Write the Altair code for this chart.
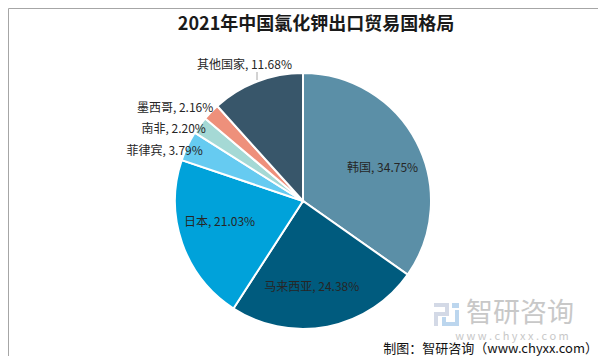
import altair as alt
import pandas as pd

categories = ["韩国", "马来西亚", "日本", "菲律宾", "南非", "墨西哥", "其他国家"]
values = [34.75, 24.38, 21.03, 3.79, 2.20, 2.16, 11.68]
colors = ["#5b8fa7", "#005b7e", "#00a2da", "#66cbf1", "#a5d9d5", "#ee907b", "#38566a"]

inside_cats = ["韩国", "马来西亚", "日本"]
top_cats = ["其他国家"]

title_text = "2021年中国氯化钾出口贸易国格局"
source_text = "制图：智研咨询（www.chyxx.com）"

df = pd.DataFrame({"cat": categories, "value": values, "idx": list(range(len(categories)))})

FONT = "Noto Sans CJK SC"
CX, CY, R = 295, 193, 128
O = 8  # page margin

base = alt.Chart(df).transform_calculate(
    label="datum.cat + ', ' + format(datum.value, '.2f') + '%'"
)

theta = alt.Theta("value:Q", stack=True)
order = alt.Order("idx:Q", sort="ascending")

pie = base.mark_arc(radius=R, stroke="white", strokeWidth=2).encode(
    theta=theta,
    order=order,
    color=alt.Color("cat:N", scale=alt.Scale(domain=categories, range=colors), legend=None),
    x=alt.value(CX), y=alt.value(CY),
)

def label_layer(cats, **mk):
    expr = "indexof(" + str(cats).replace("'", '"') + ", datum.cat) >= 0 ? datum.label : ''"
    return base.transform_calculate(lab=expr).mark_text(
        font=FONT, fontSize=12, color="#262626", baseline="middle", **mk
    ).encode(
        theta=theta, order=order, text="lab:N",
        x=alt.value(CX), y=alt.value(CY),
    )

inside = label_layer(inside_cats, radius=86, thetaOffset=0.09, align="center")
side1 = label_layer(["菲律宾"], radius=112, thetaOffset=0.02, align="right")
side2 = label_layer(["南非"], radius=121, thetaOffset=0.007, align="right")
side3 = label_layer(["墨西哥"], radius=129, thetaOffset=0.033, align="right")
top = label_layer(top_cats, radius=148, thetaOffset=-0.04, align="center")

one = alt.Chart(df).transform_filter("datum.idx == 0")

leader = one.mark_rule(color="#a6a6a6", strokeWidth=1).encode(
    x=alt.value(249), y=alt.value(64), y2=alt.value(72)
)

title = one.mark_text(
    text=title_text, font=FONT, fontSize=18, fontWeight="bold", color="#1a1a1a",
    align="center", baseline="middle"
).encode(x=alt.value(316 - O), y=alt.value(25 - O))

# watermark logo (decoration), page pixel boxes
logo_boxes = [
    (434, 449, 303, 307, "#d3d9e6"),
    (445, 449, 303, 316, "#d3d9e6"),
    (434, 449, 312, 316, "#d3d9e6"),
    (434, 438, 312, 326, "#d3d9e6"),
    (452, 459, 303, 308, "#bcd6ee"),
    (455, 459, 310, 322, "#bcd6ee"),
    (442, 459, 322, 326, "#bcd6ee"),
    (442, 446, 317, 326, "#bcd6ee"),
]
logo = [
    one.mark_rect(color=c).encode(
        x=alt.value(x1 - O), x2=alt.value(x2 - O), y=alt.value(y1 - O), y2=alt.value(y2 - O)
    )
    for (x1, x2, y1, y2, c) in logo_boxes
]

wm1 = one.mark_text(
    text="智研咨询", font=FONT, fontSize=27, color="#c8c8c8", align="left", baseline="middle"
).encode(x=alt.value(466 - O), y=alt.value(314 - O))

wm2 = one.mark_text(
    text="w  w  w  .  c  h  y  x  x  .  c  o  m", font=FONT, fontSize=11, color="#c8c8c8",
    align="center", baseline="middle"
).encode(x=alt.value(512 - O), y=alt.value(337 - O))

source = one.mark_text(
    text=source_text, font=FONT, fontSize=13, color="#111111", align="right", baseline="middle"
).encode(x=alt.value(598 - O), y=alt.value(349 - O))

chart = alt.layer(
    pie, inside, side1, side2, side3, top, leader, title, *logo, wm1, wm2, source
).properties(
    width=590, height=348, autosize=alt.AutoSizeParams(type="none"), padding=0
).configure_view(stroke="#a6a6a6", strokeWidth=1)

chart.save("out.html", embed_options={"renderer": "svg", "actions": False})
